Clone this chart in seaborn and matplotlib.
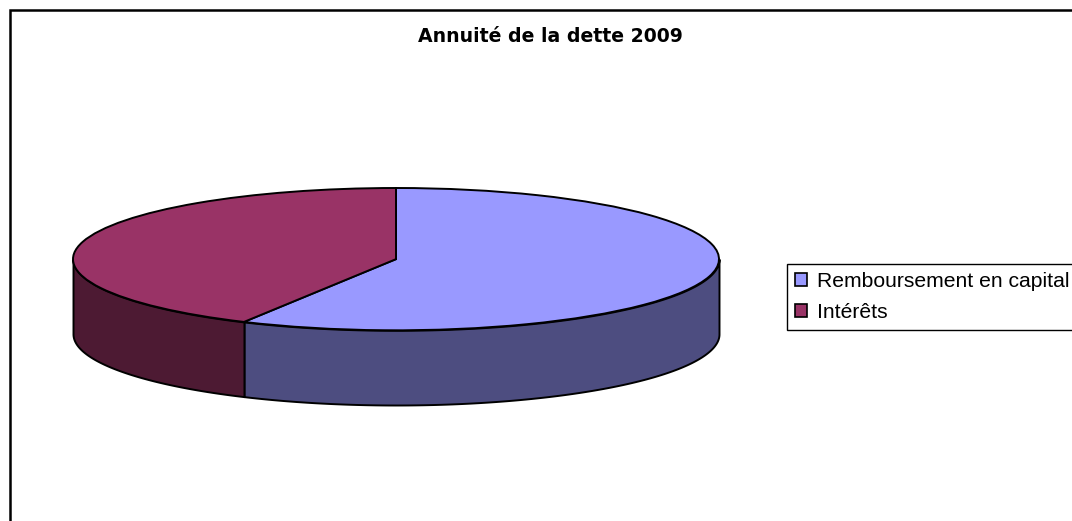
import numpy as np
import matplotlib
matplotlib.use("Agg")
import matplotlib.pyplot as plt
from matplotlib.patches import Patch, Rectangle
import seaborn as sns

# values (share of the annuity, %)
categories = ["Remboursement en capital", "Intérêts"]
shares = [57.8, 42.2]
title = "Annuité de la dette 2009"

top_colors = ["#9999FF", "#993366"]
side_colors = ["#4D4D80", "#4D1A33"]

W, H = 1072, 521

sns.set_theme(style="white")
plt.rcParams["font.family"] = ["Liberation Sans", "DejaVu Sans"]

fig = plt.figure(figsize=(W / 100, H / 100), dpi=100)

# pie is squashed into an ellipse by the axes shape
depth = 1.05
left, right, top, bottom = 73, 719, 188, 405
ax = fig.add_axes([left / W, 1 - bottom / H, (right - left) / W, (bottom - top) / H])

wedges, _ = ax.pie(
    shares,
    colors=top_colors,
    startangle=90,
    counterclock=False,
    radius=1,
    wedgeprops={"edgecolor": "black", "linewidth": 1.4, "zorder": 3, "clip_on": False},
)
ax.set_aspect("auto")
ax.set_xlim(-1, 1)
ax.set_ylim(-1 - depth, 1)
ax.axis("off")

# side wall, only the front half of the rim can be seen
edges = 90 - np.cumsum([0] + shares) * 3.6
for i in range(len(shares)):
    a = max(edges[i + 1], -180)
    b = min(edges[i], 0)
    if a >= b:
        continue
    theta = np.radians(np.linspace(a, b, 200))
    x = np.cos(theta)
    y = np.sin(theta)
    ax.fill_between(x, y, y - depth, color=side_colors[i], edgecolor="black",
                    linewidth=1.4, zorder=2, clip_on=False)

# outer chart frame, right and bottom run off the image
fig.add_artist(Rectangle((9.5 / W, -0.05), 1.1, 1.05 - 10.5 / H, transform=fig.transFigure,
                         facecolor="none", edgecolor="black", linewidth=1.8))

# reference title is letter-spaced, the wider bold face gets the same width
fig.text(550 / W, 1 - 37 / H, title, ha="center", va="center", family="DejaVu Sans",
         fontsize=13.6, fontweight="bold", color="black")

handles = [Patch(facecolor=c, edgecolor="black", linewidth=1.2) for c in top_colors]
leg = fig.legend(
    handles,
    categories,
    loc="upper left",
    bbox_to_anchor=(787 / W, 1 - 264 / H),
    frameon=True,
    fancybox=False,
    framealpha=1,
    edgecolor="black",
    fontsize=15.2,
    handlelength=0.55,
    handleheight=0.55,
    handletextpad=0.5,
    labelspacing=0.55,
    borderaxespad=0,
    borderpad=0.38,
    labelcolor="black",
)
leg.get_frame().set_linewidth(1.0)

fig.savefig("out.png", dpi=100)
